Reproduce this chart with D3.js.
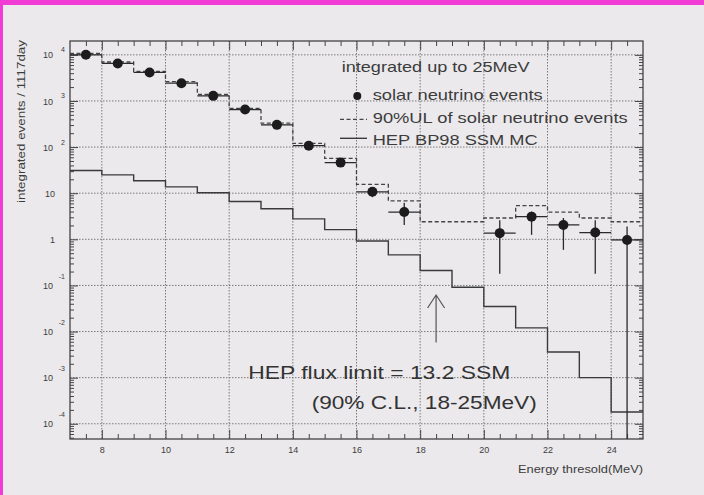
<!DOCTYPE html>
<html>
<head>
<meta charset="utf-8">
<script src="https://cdn.jsdelivr.net/npm/d3@7"></script>
<style>
  body { margin: 0; background: #ebe9ec; }
  svg { display: block; font-family: "Liberation Sans", Arial, sans-serif; }
  .axis path { display: none; }
  .axis line { stroke: #444; stroke-width: 1; }
  .axis text { fill: #3c3c3c; font-size: 9px; }
</style>
</head>
<body>
<div id="chart"></div>
<script>
// bins of the integrated spectrum (lower edge, MeV)
const binLo = [7, 8, 9, 10, 11, 12, 13, 14, 15, 16, 17, 18, 19, 20, 21, 22, 23, 24];
const binHi = 25;

// 90% upper limit of solar neutrino events (dashed histogram)
const ulEvents = [10700, 7000, 4350, 2630, 1380, 690, 330, 120, 57, 15.5, 6.8, 2.4, 2.4, 2.9, 5.4, 3.9, 2.9, 2.4];

// HEP BP98 SSM MC (solid histogram)
const hepMC = [31, 25, 18.6, 13.7, 10.2, 6.6, 4.6, 2.77, 1.62, 0.92, 0.46, 0.21, 0.091, 0.035, 0.012, 0.0036, 0.0010, 0.00018];

// solar neutrino events (points with errors)
const evEnergy = [7.5, 8.5, 9.5, 10.5, 11.5, 12.5, 13.5, 14.5, 15.5, 16.5, 17.5, 20.5, 21.5, 22.5, 23.5, 24.5];
const evCount = [10000, 6500, 4150, 2430, 1290, 650, 303, 107, 46, 10.7, 3.9, 1.36, 3.1, 2.05, 1.40, 0.97];
const evUpper = [10200, 6650, 4280, 2530, 1360, 690, 325, 118, 53, 13.5, 6.2, 2.6, 4.0, 2.9, 2.6, 1.9];
const evLower = [9800, 6350, 4020, 2330, 1220, 610, 282, 96, 39, 8.2, 2.05, 0.18, 1.25, 0.59, 0.18, 0];

// axis ticks
const xMajor = [8, 10, 12, 14, 16, 18, 20, 22, 24];
const xMinor = [7.5, 8.5, 9, 9.5, 10.5, 11, 11.5, 12.5, 13, 13.5, 14.5, 15, 15.5, 16.5, 17, 17.5, 18.5, 19, 19.5, 20.5, 21, 21.5, 22.5, 23, 23.5, 24.5];
const yDecades = [-4, -3, -2, -1, 0, 1, 2, 3, 4];

// annotation arrow (energy, from value, to value)
const arrowE = 18.5;
const arrowFrom = 0.0058;
const arrowTo = 0.062;

const W = 704, H = 495;
const plot = { left: 70, right: 643, top: 41, bottom: 439 };

const svg = d3.select("#chart").append("svg")
    .attr("width", W)
    .attr("height", H);

svg.append("rect").attr("width", W).attr("height", H).attr("fill", "#ebe9ec");
// magenta border of the slide
svg.append("rect").attr("x", 0).attr("y", 0).attr("width", W).attr("height", 5).attr("fill", "#f03cd4");
svg.append("rect").attr("x", 0).attr("y", 0).attr("width", 3).attr("height", H).attr("fill", "#f03cd4");

const xScale = d3.scaleLinear().domain([7, binHi]).range([plot.left, plot.right]);
const yScale = d3.scaleLog().domain([Math.pow(10, -4.33), Math.pow(10, 4.30)]).range([plot.bottom, plot.top]);
const yFloor = yScale.domain()[0];

// grid
const grid = svg.append("g").attr("stroke", "#7a7a7a").attr("stroke-dasharray", "1.5,1.5").attr("stroke-width", 1);
grid.selectAll(".gx").data(xMajor).enter().append("line")
    .attr("x1", d => xScale(d)).attr("x2", d => xScale(d))
    .attr("y1", plot.top).attr("y2", plot.bottom);
grid.selectAll(".gy").data(yDecades).enter().append("line")
    .attr("x1", plot.left).attr("x2", plot.right)
    .attr("y1", d => yScale(Math.pow(10, d))).attr("y2", d => yScale(Math.pow(10, d)));

// axes (ticks pointing inward)
const yMinor = [];
for (let d = -5; d <= 4; d++) {
    for (let k = 2; k <= 9; k++) {
        const v = k * Math.pow(10, d);
        if (v > yScale.domain()[0] && v < yScale.domain()[1]) yMinor.push(v);
    }
}
const yMajorVals = yDecades.map(d => Math.pow(10, d));

svg.append("g").attr("class", "axis")
    .attr("transform", `translate(0,${plot.bottom})`)
    .call(d3.axisBottom(xScale).tickValues(xMajor).tickSize(-9).tickPadding(8).tickFormat(d3.format("d")));
svg.append("g").attr("class", "axis")
    .attr("transform", `translate(0,${plot.bottom})`)
    .call(d3.axisBottom(xScale).tickValues(xMinor).tickSize(-5).tickFormat(""));
svg.append("g").attr("class", "axis")
    .attr("transform", `translate(0,${plot.top})`)
    .call(d3.axisTop(xScale).tickValues(xMajor).tickSize(-9).tickFormat(""));
svg.append("g").attr("class", "axis")
    .attr("transform", `translate(0,${plot.top})`)
    .call(d3.axisTop(xScale).tickValues(xMinor).tickSize(-5).tickFormat(""));

const yLeft = svg.append("g").attr("class", "axis")
    .attr("transform", `translate(${plot.left},0)`)
    .call(d3.axisLeft(yScale).tickValues(yMajorVals).tickSize(-8).tickPadding(15).tickFormat(""));
svg.append("g").attr("class", "axis")
    .attr("transform", `translate(${plot.left},0)`)
    .call(d3.axisLeft(yScale).tickValues(yMinor).tickSize(-4).tickFormat(""));
svg.append("g").attr("class", "axis")
    .attr("transform", `translate(${plot.right},0)`)
    .call(d3.axisRight(yScale).tickValues(yMajorVals).tickSize(-8).tickFormat(""));
svg.append("g").attr("class", "axis")
    .attr("transform", `translate(${plot.right},0)`)
    .call(d3.axisRight(yScale).tickValues(yMinor).tickSize(-4).tickFormat(""));

// y labels: 10 with superscript exponent
yLeft.selectAll(".tick").each(function (v) {
    const g = d3.select(this);
    const e = Math.round(Math.log10(v));
    g.select("text").remove();
    const label = (e === 0 || e === 1) ? String(v) : "10";
    g.append("text")
        .attr("x", (e === 0 || e === 1) ? -15 : -17)
        .attr("dy", "0.34em")
        .attr("text-anchor", "end")
        .text(label);
    if (e !== 0 && e !== 1) {
        g.append("text")
            .attr("x", -5)
            .attr("y", e < 0 ? -7 : -3)
            .attr("text-anchor", "end")
            .style("font-size", "7px")
            .text(String(e));
    }
});

// frame
svg.append("rect")
    .attr("x", plot.left).attr("y", plot.top)
    .attr("width", plot.right - plot.left).attr("height", plot.bottom - plot.top)
    .attr("fill", "none").attr("stroke", "#444").attr("stroke-width", 1.3);

// axis titles
svg.append("text")
    .attr("transform", "translate(25,40) rotate(-90)")
    .attr("text-anchor", "end")
    .attr("fill", "#3c3c3c")
    .style("font-size", "10px")
    .attr("textLength", 163).attr("lengthAdjust", "spacingAndGlyphs")
    .text("integrated events / 1117day");

svg.append("text")
    .attr("x", 518).attr("y", 473)
    .attr("fill", "#3c3c3c")
    .style("font-size", "10px")
    .attr("textLength", 125).attr("lengthAdjust", "spacingAndGlyphs")
    .text("Energy thresold(MeV)");

// histograms
const clip = svg.append("clipPath").attr("id", "clip")
    .append("rect")
    .attr("x", plot.left).attr("y", plot.top)
    .attr("width", plot.right - plot.left).attr("height", plot.bottom - plot.top);

const body = svg.append("g").attr("clip-path", "url(#clip)");

const stepLine = d3.line()
    .x(d => xScale(d[0]))
    .y(d => yScale(d[1]))
    .curve(d3.curveStepAfter);

function histPoints(vals) {
    const pts = binLo.map((lo, i) => [lo, vals[i]]);
    pts.push([binHi, vals[vals.length - 1]]);
    return pts;
}

body.append("path")
    .datum(histPoints(hepMC))
    .attr("d", stepLine)
    .attr("fill", "none")
    .attr("stroke", "#3a3a3a")
    .attr("stroke-width", 1.4);

body.append("path")
    .datum(histPoints(ulEvents))
    .attr("d", stepLine)
    .attr("fill", "none")
    .attr("stroke", "#444")
    .attr("stroke-width", 1.3)
    .attr("stroke-dasharray", "4,2.5");

// events with error bars
const events = evEnergy.map((e, i) => ({
    e: e, n: evCount[i], hi: evUpper[i], lo: evLower[i]
}));

const ev = body.append("g").selectAll("g").data(events).enter().append("g");
ev.append("line")
    .attr("x1", d => xScale(d.e - 0.5)).attr("x2", d => xScale(d.e + 0.5))
    .attr("y1", d => yScale(d.n)).attr("y2", d => yScale(d.n))
    .attr("stroke", "#2a2a2a").attr("stroke-width", 1.3);
ev.append("line")
    .attr("x1", d => xScale(d.e)).attr("x2", d => xScale(d.e))
    .attr("y1", d => yScale(d.hi))
    .attr("y2", d => yScale(Math.max(d.lo, yFloor)))
    .attr("stroke", "#2a2a2a").attr("stroke-width", 1.3);
ev.append("circle")
    .attr("cx", d => xScale(d.e)).attr("cy", d => yScale(d.n))
    .attr("r", 5)
    .attr("fill", "#1c1c1c");

// legend
const legendX = 341.7;
svg.append("text")
    .attr("x", legendX).attr("y", 71.7)
    .attr("fill", "#3c3c3c").style("font-size", "15px")
    .attr("textLength", 188).attr("lengthAdjust", "spacingAndGlyphs")
    .text("integrated up to 25MeV");

svg.append("circle").attr("cx", 357.3).attr("cy", 96).attr("r", 4).attr("fill", "#1c1c1c");
svg.append("line").attr("x1", 340).attr("x2", 367).attr("y1", 119.3).attr("y2", 119.3)
    .attr("stroke", "#444").attr("stroke-width", 1.3).attr("stroke-dasharray", "4,2.5");
svg.append("line").attr("x1", 340).attr("x2", 367).attr("y1", 138.3).attr("y2", 138.3)
    .attr("stroke", "#3a3a3a").attr("stroke-width", 1.4);

const legendItems = [
    { label: "solar neutrino events", y: 99.5, w: 170 },
    { label: "90%UL of solar neutrino events", y: 123.3, w: 255 },
    { label: "HEP BP98 SSM MC", y: 144.5, w: 165 }
];
svg.selectAll(".leg").data(legendItems).enter().append("text")
    .attr("x", 372.7).attr("y", d => d.y)
    .attr("fill", "#3c3c3c").style("font-size", "15px")
    .attr("textLength", d => d.w).attr("lengthAdjust", "spacingAndGlyphs")
    .text(d => d.label);

// arrow marking 18 MeV threshold
const ax = xScale(arrowE), ay0 = yScale(arrowFrom), ay1 = yScale(arrowTo);
svg.append("path")
    .attr("d", `M${ax},${ay0}L${ax},${ay1}M${ax - 8.5},${ay1 + 13}L${ax},${ay1}L${ax + 8.5},${ay1 + 13}`)
    .attr("fill", "none").attr("stroke", "#555").attr("stroke-width", 1.2);

// annotation
svg.append("text")
    .attr("x", 248.3).attr("y", 379.3)
    .attr("fill", "#333").style("font-size", "19px")
    .attr("textLength", 262).attr("lengthAdjust", "spacingAndGlyphs")
    .text("HEP flux limit = 13.2 SSM");
svg.append("text")
    .attr("x", 311.7).attr("y", 409)
    .attr("fill", "#333").style("font-size", "19px")
    .attr("textLength", 225).attr("lengthAdjust", "spacingAndGlyphs")
    .text("(90% C.L., 18-25MeV)");
</script>
</body>
</html>
